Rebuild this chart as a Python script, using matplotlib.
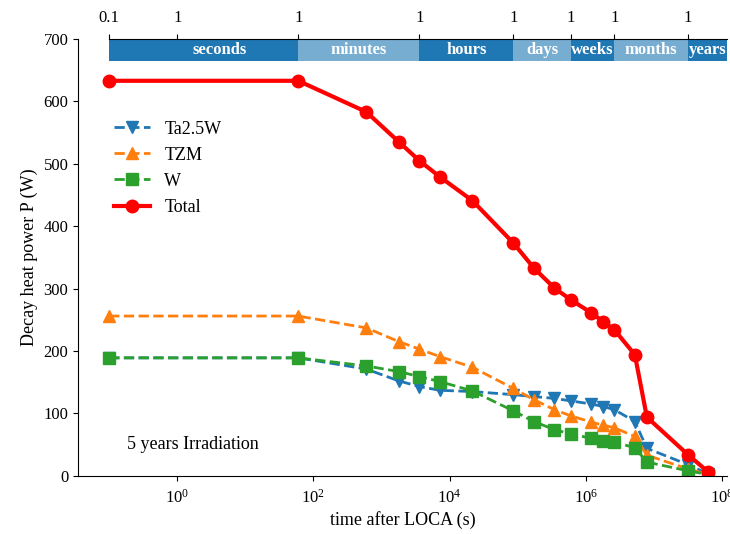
import numpy as np
import matplotlib
matplotlib.use('Agg')
import matplotlib.pyplot as plt

plt.rcParams['font.family'] = ['Liberation Serif', 'DejaVu Serif']
plt.rcParams['mathtext.fontset'] = 'stix'

# time after LOCA (s)
t = [0.1, 60, 600, 1800, 3600, 7200, 21600, 86400, 172800, 345600, 604800,
     1.21e6, 1.81e6, 2.63e6, 5.26e6, 7.9e6, 3.156e7, 6.31e7]
ta25w = [189, 189, 171, 152, 143, 137, 135, 130, 127, 124, 120,
         115, 111, 106, 87, 44, 18, 3]
tzm = [256, 256, 237, 215, 203, 191, 174, 140, 122, 106, 96,
       86, 81, 77, 63, 33, 11, 2]
w = [189, 189, 176, 167, 159, 151, 136, 104, 87, 74, 67,
     60, 56, 54, 45, 22, 8, 2]
total = [633, 633, 583, 535, 505, 479, 441, 373, 333, 301, 282,
         261, 247, 234, 194, 94, 34, 6]

# time units band
unit_names = ['seconds', 'minutes', 'hours', 'days', 'weeks', 'months', 'years']
unit_edges = [0.1, 60, 3600, 86400, 604800, 2.63e6, 3.156e7]
top_labels = ['0.1', '1', '1', '1', '1', '1', '1', '1']
top_ticks = [0.1, 1, 60, 3600, 86400, 604800, 2.63e6, 3.156e7]

xmin, xmax = 0.035, 1.19e8

fig = plt.figure(figsize=(7.3, 5.34), dpi=100)
ax = fig.add_axes([0.107, 0.109, 0.889, 0.818])

ax.plot(t, ta25w, '--v', color='C0', lw=2, ms=8, label='Ta2.5W')
ax.plot(t, tzm, '--^', color='C1', lw=2, ms=8, label='TZM')
ax.plot(t, w, '--s', color='C2', lw=2, ms=8, label='W')
ax.plot(t, total, '-o', color='red', lw=3, ms=9, label='Total')

ax.set_xscale('log')
ax.set_xlim(xmin, xmax)
ax.set_ylim(0, 700)
ax.set_xticks([1, 1e2, 1e4, 1e6, 1e8])
ax.xaxis.set_minor_locator(matplotlib.ticker.NullLocator())
ax.set_yticks(range(0, 701, 100))
ax.tick_params(labelsize=12)
ax.tick_params(axis='x', pad=6)
ax.spines['top'].set_visible(False)
ax.spines['right'].set_visible(False)
ax.set_xlabel('time after LOCA (s)', fontsize=13, labelpad=3)
ax.set_ylabel('Decay heat power P (W)', fontsize=13)

# band
edges = unit_edges + [xmax]
for i, name in enumerate(unit_names):
    lo, hi = edges[i], edges[i + 1]
    alpha = 1.0 if i % 2 == 0 else 0.6
    ax.fill_betweenx([665, 700], lo, hi, color='C0', alpha=alpha, lw=0)
    xc = np.sqrt(lo * hi) if i > 0 else 4.2
    ax.text(xc, 682, name, color='white', fontweight='bold', fontsize=12,
            ha='center', va='center')

ax.legend(loc='upper left', bbox_to_anchor=(0.03, 0.85), frameon=False,
          fontsize=13, handlelength=2)
ax.text(0.075, 0.071, '5 years Irradiation', transform=ax.transAxes,
        fontsize=13, va='center')

axt = ax.twiny()
axt.set_xscale('log')
axt.set_xlim(xmin, xmax)
axt.set_xticks(top_ticks)
axt.set_xticklabels(top_labels)
axt.xaxis.set_minor_locator(matplotlib.ticker.NullLocator())
axt.tick_params(labelsize=12, pad=6)
for s in ['left', 'right', 'bottom']:
    axt.spines[s].set_visible(False)
axt.spines['top'].set_bounds(0.1, xmax)

fig.savefig('out.png', dpi=100)
